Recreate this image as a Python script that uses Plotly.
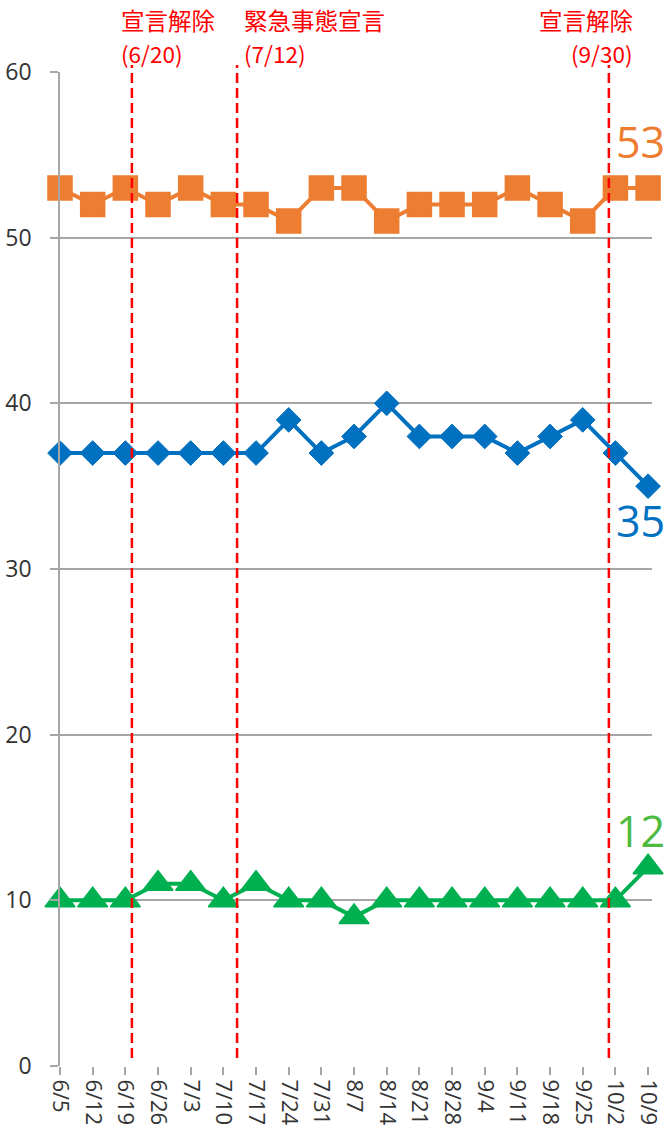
import plotly.graph_objects as go

# Weekly survey dates
dates = ["6/5", "6/12", "6/19", "6/26", "7/3", "7/10", "7/17", "7/24", "7/31",
         "8/7", "8/14", "8/21", "8/28", "9/4", "9/11", "9/18", "9/25", "10/2", "10/9"]

# Series values (%)
orange_vals = [53, 52, 53, 52, 53, 52, 52, 51, 53, 53, 51, 52, 52, 52, 53, 52, 51, 53, 53]
blue_vals = [37, 37, 37, 37, 37, 37, 37, 39, 37, 38, 40, 38, 38, 38, 37, 38, 39, 37, 35]
green_vals = [10, 10, 10, 11, 11, 10, 11, 10, 10, 9, 10, 10, 10, 10, 10, 10, 10, 10, 12]

# Event markers: position on the weekly axis, label lines
event_pos = [2.2, 5.42, 16.8]
event_title = ["宣言解除", "緊急事態宣言", "宣言解除"]
event_date = ["(6/20)", "(7/12)", "(9/30)"]

y_ticks = [0, 10, 20, 30, 40, 50, 60]

ORANGE = "#ED7D31"
BLUE = "#0070C0"
GREEN = "#00B050"
GREEN_TXT = "#4DBB3F"
RED = "#FF0000"
GRID = "#A6A6A6"
TXT = "#333333"

xs = list(range(len(dates)))

fig = go.Figure()

fig.add_trace(go.Scatter(
    x=xs, y=orange_vals, mode="lines+markers", cliponaxis=False,
    line=dict(color=ORANGE, width=4),
    marker=dict(symbol="square", size=24, color=ORANGE,
                line=dict(color=ORANGE, width=1.5)),
    showlegend=False))

fig.add_trace(go.Scatter(
    x=xs, y=blue_vals, mode="lines+markers", cliponaxis=False,
    line=dict(color=BLUE, width=4),
    marker=dict(symbol="diamond", size=19, color=BLUE,
                line=dict(color=BLUE, width=1)),
    showlegend=False))

fig.add_trace(go.Scatter(
    x=xs, y=green_vals, mode="lines+markers", cliponaxis=False,
    line=dict(color=GREEN, width=4),
    marker=dict(symbol="triangle-up", size=26, color=GREEN,
                line=dict(color=GREEN, width=1.5)),
    showlegend=False))

# Dashed vertical event lines
for p in event_pos:
    fig.add_shape(type="line", xref="x", yref="paper",
                  x0=p, x1=p, y0=0.008, y1=1.007,
                  line=dict(color=RED, width=2.5, dash="10px,5px"))

cjk = "Noto Sans CJK JP"
anchors = ["left", "left", "right"]
shifts = [-13, 5, 26]
for p, t, d, a, s in zip(event_pos, event_title, event_date, anchors, shifts):
    fig.add_annotation(x=p, xref="x", y=1.0523, yref="paper", text=t,
                       showarrow=False, xanchor=a, yanchor="middle", xshift=s,
                       font=dict(family=cjk, size=23.5, color=RED))
    fig.add_annotation(x=p, xref="x", y=1.019, yref="paper", text=d,
                       showarrow=False, xanchor=a, yanchor="middle", xshift=s,
                       font=dict(family=cjk, size=22.5, color=RED))

# Latest-value callouts
last = len(dates) - 1
callouts = [(orange_vals[last], ORANGE, 55.8), (blue_vals[last], BLUE, 32.95),
            (green_vals[last], GREEN_TXT, 14.2)]
for val, col, ypos in callouts:
    fig.add_annotation(x=0.981, xref="paper", y=ypos, yref="y", text=str(val),
                       showarrow=False, xanchor="center", yanchor="middle",
                       font=dict(family="Open Sans", size=43, color=col))

fig.update_layout(
    width=666, height=1130,
    margin=dict(l=60, r=14, t=72, b=64),
    paper_bgcolor="white", plot_bgcolor="white",
    xaxis=dict(
        range=[0, 18.12], tickmode="array", tickvals=xs, ticktext=dates,
        tickangle=90, ticks="outside", ticklen=8, tickcolor=GRID, tickwidth=1.5,
        showgrid=False, zeroline=False, showline=False, automargin=False,
        tickfont=dict(family="Open Sans", size=22, color=TXT)),
    yaxis=dict(
        range=[0, 60], tickmode="array", tickvals=y_ticks,
        ticks="outside", ticklen=8, tickcolor=GRID, tickwidth=1.5,
        showgrid=True, gridcolor=GRID, gridwidth=1.5,
        zeroline=False, showline=True, linecolor=GRID, linewidth=1.5,
        automargin=False, ticklabelstandoff=14,
        tickfont=dict(family="Open Sans", size=23, color=TXT)),
)

fig.write_html("out.html")
